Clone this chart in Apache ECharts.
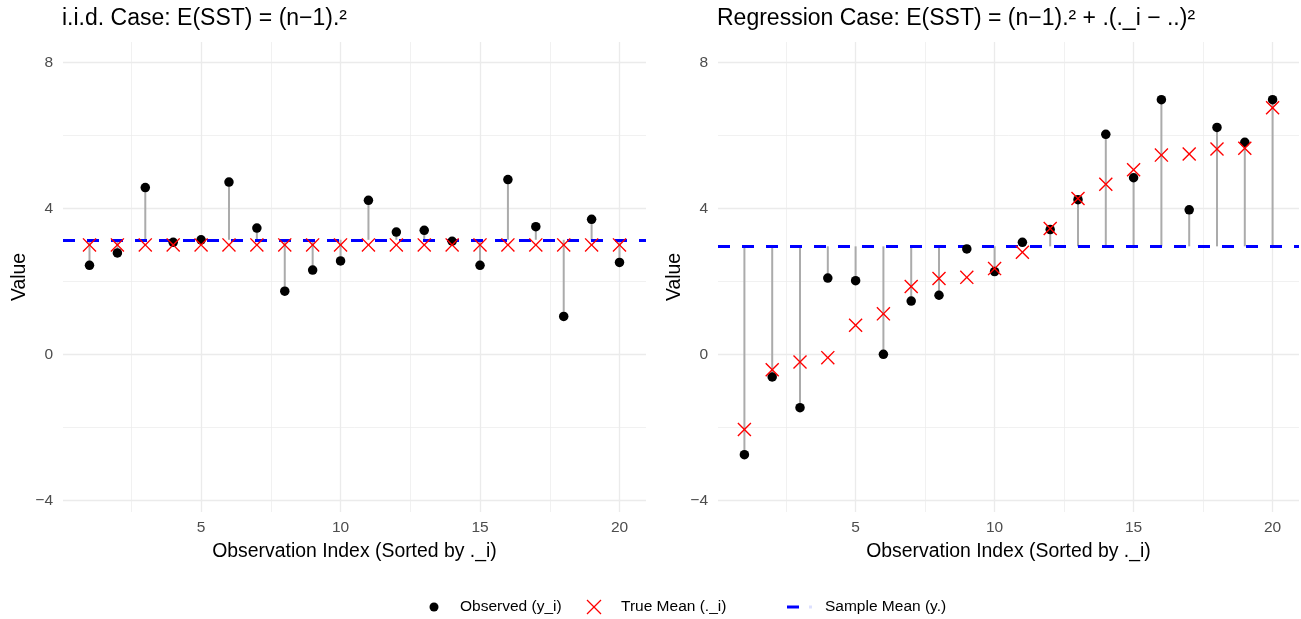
<!DOCTYPE html>
<html>
<head>
<meta charset="utf-8">
<script src="https://cdn.jsdelivr.net/npm/echarts@6/dist/echarts.min.js"></script>
<style>
  html, body { margin: 0; padding: 0; background: #fff; }
  #chart { width: 1301px; height: 619px; }
</style>
</head>
<body>
<div id="chart"></div>
<script>
// observation index 1..20
var idx = [1, 2, 3, 4, 5, 6, 7, 8, 9, 10, 11, 12, 13, 14, 15, 16, 17, 18, 19, 20];

// left panel: i.i.d. case
var iidObserved = [2.44, 2.78, 4.57, 3.07, 3.14, 4.72, 3.46, 1.73, 2.31, 2.56,
                   4.22, 3.35, 3.40, 3.10, 2.44, 4.79, 3.50, 1.04, 3.70, 2.52];
var iidTrue = [3, 3, 3, 3, 3, 3, 3, 3, 3, 3, 3, 3, 3, 3, 3, 3, 3, 3, 3, 3];
var iidMean = 3.14;

// right panel: regression case
var regObserved = [-2.75, -0.62, -1.46, 2.09, 2.02, 0.00, 1.46, 1.62, 2.89, 2.27,
                   3.07, 3.42, 4.24, 6.03, 4.84, 6.98, 3.96, 6.22, 5.81, 6.98];
var regTrue = [-2.06, -0.42, -0.21, -0.09, 0.80, 1.11, 1.86, 2.08, 2.11, 2.35,
               2.80, 3.45, 4.27, 4.66, 5.06, 5.46, 5.49, 5.63, 5.65, 6.76];
var regMean = 2.96;

var xTicks = [5, 10, 15, 20];
var xMinor = [2.5, 7.5, 12.5, 17.5];
var yTicks = [-4, 0, 4, 8];
var yMinor = [-2, 2, 6];

var titles = ['i.i.d. Case: E(SST) = (n\u22121).\u00b2',
              'Regression Case: E(SST) = (n\u22121).\u00b2 + .(._i \u2212 ..)\u00b2'];

// X mark drawn as a filled shape so it works for scatter
var crossPath = 'path://M0,0.7L0.7,0L5,4.3L9.3,0L10,0.7L5.7,5L10,9.3L9.3,10L5,5.7L0.7,10L0,9.3L4.3,5Z';

var font = 'Liberation Sans, Arial, sans-serif';

function pairs(xs, ys) {
  return xs.map(function (x, i) { return [x, ys[i]]; });
}

function gridLines(k) {
  var data = [];
  yTicks.forEach(function (v) { data.push({ yAxis: v, lineStyle: { width: 1.3 } }); });
  yMinor.forEach(function (v) { data.push({ yAxis: v, lineStyle: { width: 0.7 } }); });
  xTicks.forEach(function (v) { data.push({ xAxis: v, lineStyle: { width: 1.3 } }); });
  xMinor.forEach(function (v) { data.push({ xAxis: v, lineStyle: { width: 0.7 } }); });
  return {
    type: 'line', xAxisIndex: k, yAxisIndex: k, data: [], silent: true, z: 0,
    markLine: {
      silent: true, symbol: 'none', label: { show: false }, z: 0,
      lineStyle: { color: '#ebebeb', type: 'solid' },
      animation: false,
      data: data
    }
  };
}

function panelSeries(k, obs, tru, mean) {
  return [
    gridLines(k),
    {
      // residual segments from y_i to the sample mean
      type: 'custom', xAxisIndex: k, yAxisIndex: k, z: 1,
      data: pairs(idx, obs),
      renderItem: function (params, api) {
        var p1 = api.coord([api.value(0), api.value(1)]);
        var p2 = api.coord([api.value(0), mean]);
        return {
          type: 'line',
          shape: { x1: p1[0], y1: p1[1], x2: p2[0], y2: p2[1] },
          style: { stroke: '#ababab', lineWidth: 2 }
        };
      }
    },
    {
      // dashed sample mean
      type: 'line', xAxisIndex: k, yAxisIndex: k, data: [], z: 2,
      markLine: {
        silent: true, symbol: 'none', label: { show: false }, animation: false, z: 2,
        lineStyle: { color: '#0000ff', width: 3, type: [12, 12] },
        data: [{ yAxis: mean }]
      }
    },
    {
      type: 'scatter', xAxisIndex: k, yAxisIndex: k, z: 3,
      symbol: 'circle', symbolSize: 9.5,
      itemStyle: { color: '#000', opacity: 1 },
      data: pairs(idx, obs)
    },
    {
      type: 'scatter', xAxisIndex: k, yAxisIndex: k, z: 4,
      symbol: crossPath, symbolSize: 14,
      itemStyle: { color: '#ff0000', opacity: 1 },
      data: pairs(idx, tru)
    }
  ];
}

function minusSign(v) {
  return String(v).replace('-', '\u2212');
}

function xAxisFor(k) {
  return {
    type: 'value', gridIndex: k, min: 0.05, max: 20.95,
    name: 'Observation Index (Sorted by ._i)', nameLocation: 'middle', nameGap: 30,
    nameTextStyle: { color: '#000', fontSize: 19.4, fontFamily: font },
    axisLine: { show: false }, axisTick: { show: false }, splitLine: { show: false },
    axisLabel: { customValues: xTicks, color: '#4d4d4d', fontSize: 15.5, margin: 8, fontFamily: font }
  };
}

function yAxisFor(k) {
  return {
    type: 'value', gridIndex: k, min: -4.32, max: 8.56,
    name: 'Value', nameLocation: 'middle', nameGap: 34,
    nameTextStyle: { color: '#000', fontSize: 19.4, fontFamily: font },
    axisLine: { show: false }, axisTick: { show: false }, splitLine: { show: false },
    axisLabel: { customValues: yTicks, formatter: minusSign, color: '#4d4d4d', fontSize: 15.5, margin: 10, fontFamily: font }
  };
}

var chart = echarts.init(document.getElementById('chart'));

var option = {
  backgroundColor: '#fff',
  animation: false,
  title: [
    { text: titles[0], left: 62, top: 7, padding: 0, textStyle: { color: '#000', fontSize: 23, fontWeight: 'normal', fontFamily: font } },
    { text: titles[1], left: 717, top: 7, padding: 0, textStyle: { color: '#000', fontSize: 23, fontWeight: 'normal', fontFamily: font } }
  ],
  grid: [
    { left: 63, right: 655, top: 42, bottom: 107 },
    { left: 718, right: 2, top: 42, bottom: 107 }
  ],
  xAxis: [xAxisFor(0), xAxisFor(1)],
  yAxis: [yAxisFor(0), yAxisFor(1)],
  series: panelSeries(0, iidObserved, iidTrue, iidMean)
    .concat(panelSeries(1, regObserved, regTrue, regMean)),
  graphic: [
    // legend at the bottom
    { type: 'circle', shape: { cx: 434, cy: 607, r: 4.5 }, style: { fill: '#000' } },
    { type: 'text', x: 460, y: 607, style: { text: 'Observed (y_i)', fill: '#000', fontSize: 15.5, fontFamily: font, verticalAlign: 'middle' } },
    { type: 'line', shape: { x1: 587, y1: 600, x2: 601, y2: 614 }, style: { stroke: '#ff0000', lineWidth: 1.3 } },
    { type: 'line', shape: { x1: 601, y1: 600, x2: 587, y2: 614 }, style: { stroke: '#ff0000', lineWidth: 1.3 } },
    { type: 'text', x: 621, y: 607, style: { text: 'True Mean (._i)', fill: '#000', fontSize: 15.5, fontFamily: font, verticalAlign: 'middle' } },
    { type: 'line', shape: { x1: 787, y1: 607, x2: 799, y2: 607 }, style: { stroke: '#0000ff', lineWidth: 3 } },
    { type: 'line', shape: { x1: 809, y1: 607, x2: 812, y2: 607 }, style: { stroke: '#dde0ff', lineWidth: 3 } },
    { type: 'text', x: 825, y: 607, style: { text: 'Sample Mean (y.)', fill: '#000', fontSize: 15.5, fontFamily: font, verticalAlign: 'middle' } }
  ]
};

chart.setOption(option);
</script>
</body>
</html>
